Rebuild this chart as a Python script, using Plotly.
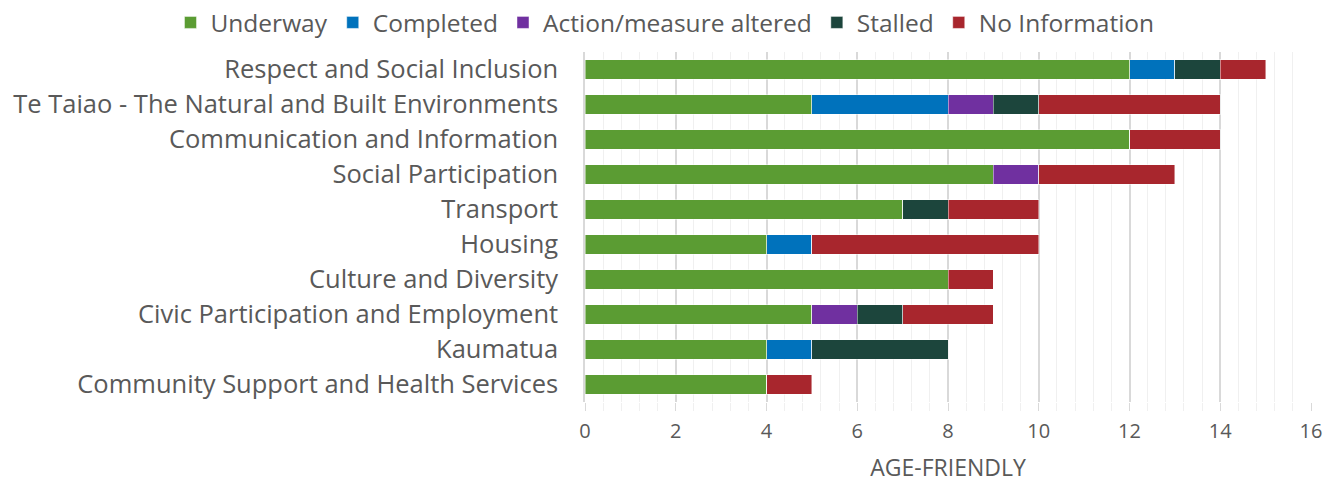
import plotly.graph_objects as go

categories = [
    "Respect and Social Inclusion",
    "Te Taiao - The Natural and Built Environments",
    "Communication and Information",
    "Social Participation",
    "Transport",
    "Housing",
    "Culture and Diversity",
    "Civic Participation and Employment",
    "Kaumatua",
    "Community Support and Health Services",
]

underway = [12, 5, 12, 9, 7, 4, 8, 5, 4, 4]
completed = [1, 3, 0, 0, 0, 1, 0, 0, 1, 0]
altered = [0, 1, 0, 1, 0, 0, 0, 1, 0, 0]
stalled = [1, 1, 0, 0, 1, 0, 0, 1, 3, 0]
no_info = [1, 4, 2, 3, 2, 5, 1, 2, 0, 1]

series = [
    ("Underway", underway, "#5b9c33"),
    ("Completed", completed, "#0072bc"),
    ("Action/measure altered", altered, "#7030a0"),
    ("Stalled", stalled, "#1c453c"),
    ("No Information", no_info, "#a8262d"),
]

FONT = "Open Sans"
GREY = "#595959"

fig = go.Figure()
for name, vals, col in series:
    fig.add_trace(go.Bar(
        y=categories,
        x=vals,
        name=name,
        orientation="h",
        marker=dict(color=col, line=dict(color="rgba(255,255,255,0.45)", width=1)),
    ))

# plot area spans the full width; the x domain leaves room for the labels
fig.update_layout(
    barmode="stack",
    bargap=0.43,
    width=1338,
    height=483,
    plot_bgcolor="white",
    paper_bgcolor="white",
    font=dict(family=FONT, color=GREY, size=22),
    margin=dict(l=0, r=0, t=52, b=81, autoexpand=False),
    legend=dict(
        orientation="h",
        x=0.497, xanchor="center",
        y=1.0, yanchor="top", yref="container",
        font=dict(size=24.5, color=GREY),
        traceorder="normal",
        itemwidth=30,
    ),
)

fig.update_xaxes(
    domain=[585 / 1338, 1311 / 1338],
    automargin=False,
    range=[0, 16],
    dtick=2,
    showgrid=True,
    gridcolor="#d9d9d9",
    gridwidth=1.5,
    zeroline=False,
    ticks="outside",
    ticklen=8,
    tickcolor="#d9d9d9",
    ticklabelstandoff=3,
    tickfont=dict(size=20, color=GREY),
    minor=dict(dtick=0.4, showgrid=True, gridcolor="#f0f0f0", gridwidth=1,
               ticks="outside", ticklen=8, tickcolor="#f0f0f0"),
    title=dict(text="AGE-FRIENDLY", font=dict(size=23, color=GREY), standoff=19),
)

fig.update_yaxes(
    autorange="reversed",
    automargin=False,
    dtick=1,
    showline=True,
    linecolor="#d9d9d9",
    linewidth=1.5,
    ticks="",
    ticklabelstandoff=20,
    tickfont=dict(size=25.5, color=GREY),
)

# drop the default body margin so the figure sits at the page corner
fig.write_html("out.html", config={"displayModeBar": False},
               post_script="document.body.style.margin='0px';")
